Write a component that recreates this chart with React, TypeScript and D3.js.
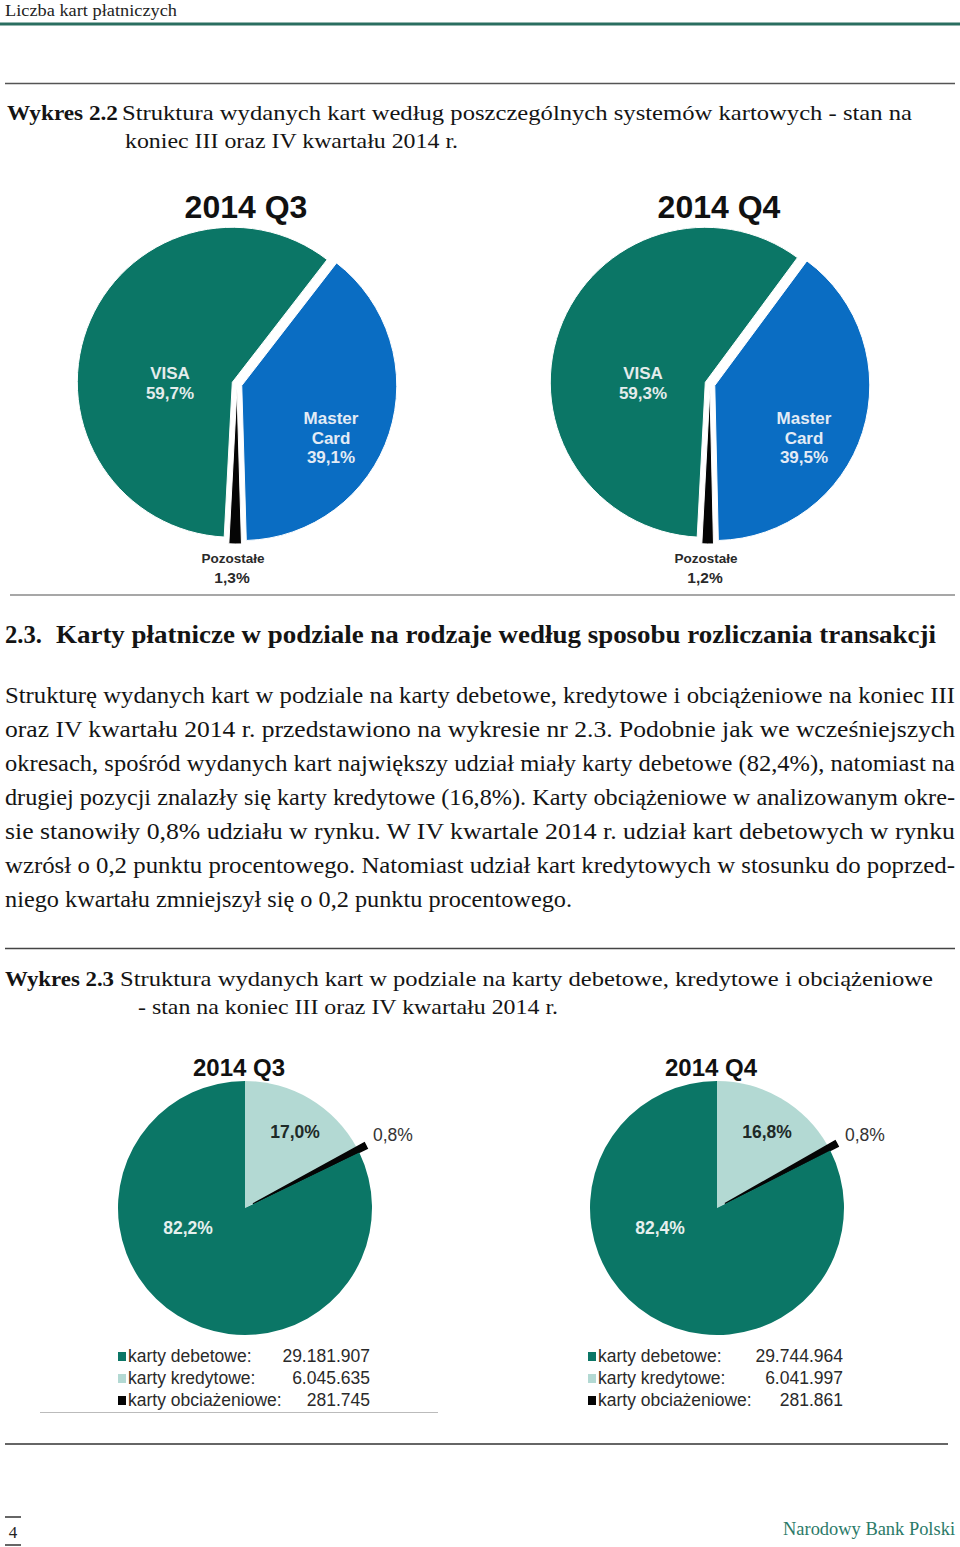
import React from "react";
import * as d3 from "d3";

// ---------- data ----------
const systemNames = ["VISA", "Master Card", "Pozostałe"];
const systemsQ3 = [59.7, 39.1, 1.3];
const systemsQ4 = [59.3, 39.5, 1.2];
const systemColors = ["#0b7666", "#0a6dc3", "#050505"];

const cardLegend = ["karty debetowe:", "karty kredytowe:", "karty obciażeniowe:"];
const cardsQ3 = [29181907, 6045635, 281745];
const cardsQ4 = [29744964, 6041997, 281861];
const cardPctQ3 = [82.2, 17.0, 0.8];
const cardPctQ4 = [82.4, 16.8, 0.8];
const cardColors = ["#0b7666", "#b3d9d3", "#050505"];

const quarterTitles = ["2014 Q3", "2014 Q4"];

const paragraphLines = [
  "Strukturę wydanych kart w podziale na karty debetowe, kredytowe i obciążeniowe na koniec III",
  "oraz IV kwartału 2014 r. przedstawiono na wykresie nr 2.3. Podobnie jak we wcześniejszych",
  "okresach, spośród wydanych kart największy udział miały karty debetowe (82,4%), natomiast na",
  "drugiej pozycji znalazły się karty kredytowe (16,8%). Karty obciążeniowe w analizowanym okre-",
  "sie stanowiły 0,8% udziału w rynku. W IV kwartale 2014 r. udział kart debetowych w rynku",
  "wzrósł o 0,2 punktu procentowego. Natomiast udział kart kredytowych w stosunku do poprzed-",
  "niego kwartału zmniejszył się o 0,2 punktu procentowego.",
];

// ---------- helpers ----------
const plLocale = d3.formatLocale({
  decimal: ",",
  thousands: ".",
  grouping: [3],
  currency: ["", " zł"],
});
const fmtInt = plLocale.format(",d");
const fmtPct = (v: number) => plLocale.format(".1f")(v) + "%";

const SERIF = "'Liberation Serif', 'DejaVu Serif', serif";
const SANS = "'Liberation Sans', Arial, sans-serif";
const deg = Math.PI / 180;

function SystemPie({ cx, cy, title, values }: { cx: number; cy: number; title: string; values: number[] }) {
  const r = 155;
  const explode = 5;
  const start = 183 * deg;
  const pie = d3
    .pie<number>()
    .sort(null)
    .startAngle(start)
    .endAngle(start + 2 * Math.PI);
  const arcs = pie(values);
  const arc = d3.arc<d3.PieArcDatum<number>>().innerRadius(0).outerRadius(r);
  return (
    <g>
      <text x={cx + 9} y={cy - 166} textAnchor="middle" fontFamily={SANS} fontWeight="bold" fontSize={32} fill="#111">
        {title}
      </text>
      {arcs.map((a, i) => {
        const mid = (a.startAngle + a.endAngle) / 2;
        const dx = Math.sin(mid) * explode;
        const dy = -Math.cos(mid) * explode;
        return (
          <path
            key={i}
            d={arc(a) || ""}
            transform={`translate(${cx + dx},${cy + dy})`}
            fill={systemColors[i]}
            stroke="#fff"
            strokeWidth={1}
          />
        );
      })}
      <g fontFamily={SANS} fontWeight="bold" textAnchor="middle">
        <text x={cx - 67} y={cy - 5} fontSize={17} fill="#e4ecec">
          {systemNames[0]}
        </text>
        <text x={cx - 67} y={cy + 15} fontSize={17} fill="#e4ecec">
          {fmtPct(values[0])}
        </text>
        <text x={cx + 94} y={cy + 40} fontSize={17} fill="#e3ebf5">
          Master
        </text>
        <text x={cx + 94} y={cy + 60} fontSize={17} fill="#e3ebf5">
          Card
        </text>
        <text x={cx + 94} y={cy + 79} fontSize={17} fill="#e3ebf5">
          {fmtPct(values[1])}
        </text>
        <text x={cx - 4} y={cy + 179} fontSize={13.5} fill="#2a2a2a">
          {systemNames[2]}
        </text>
        <text x={cx - 5} y={cy + 199} fontSize={15.5} fill="#2a2a2a">
          {fmtPct(values[2])}
        </text>
      </g>
    </g>
  );
}

function CardPie({
  cx,
  cy,
  title,
  counts,
  pcts,
  legendX,
  valueX,
}: {
  cx: number;
  cy: number;
  title: string;
  counts: number[];
  pcts: number[];
  legendX: number;
  valueX: number;
}) {
  const r = 127;
  // clockwise from 12 o'clock: kredytowe, obciążeniowe, debetowe
  const order = [1, 2, 0];
  const pie = d3.pie<number>().sort(null).startAngle(0).endAngle(2 * Math.PI);
  const arcs = pie(order.map((k) => counts[k]));
  const arc = d3.arc<d3.PieArcDatum<number>>().innerRadius(0).outerRadius(r);
  const explodes = [0, 9, 0];
  const rowY = [1362, 1384, 1406];
  return (
    <g>
      <text x={cx - 6} y={1076} textAnchor="middle" fontFamily={SANS} fontWeight="bold" fontSize={24} fill="#111">
        {title}
      </text>
      {arcs.map((a, j) => {
        const k = order[j];
        const mid = (a.startAngle + a.endAngle) / 2;
        const dx = Math.sin(mid) * explodes[j];
        const dy = -Math.cos(mid) * explodes[j];
        return (
          <path
            key={j}
            d={arc(a) || ""}
            transform={`translate(${cx + dx},${cy + dy})`}
            fill={cardColors[k]}
            stroke={k === 2 ? "#050505" : "none"}
            strokeWidth={k === 2 ? 1.5 : 0}
          />
        );
      })}
      <g fontFamily={SANS} fontSize={17.5}>
        <text x={cx + 50} y={cy - 70} textAnchor="middle" fontWeight="bold" fill="#1e2a28">
          {fmtPct(pcts[1])}
        </text>
        <text x={cx + 128} y={cy - 67} textAnchor="start" fill="#333">
          {fmtPct(pcts[2])}
        </text>
        <text x={cx - 57} y={cy + 26} textAnchor="middle" fontWeight="bold" fill="#e6f0ee">
          {fmtPct(pcts[0])}
        </text>
      </g>
      <g fontFamily={SANS} fontSize={17.5} fill="#2a2a2a">
        {cardLegend.map((lab, k) => (
          <g key={k}>
            <rect x={legendX} y={rowY[k] - 10} width={8} height={9} fill={cardColors[k]} />
            <text x={legendX + 10} y={rowY[k]}>
              {lab}
            </text>
            <text x={valueX} y={rowY[k]} textAnchor="end">
              {fmtInt(counts[k])}
            </text>
          </g>
        ))}
      </g>
    </g>
  );
}

function SText({
  x,
  y,
  w,
  size,
  bold,
  fill,
  anchor,
  children,
}: {
  x: number;
  y: number;
  w?: number;
  size: number;
  bold?: boolean;
  fill?: string;
  anchor?: string;
  children: React.ReactNode;
}) {
  return (
    <text
      x={x}
      y={y}
      fontFamily={SERIF}
      fontSize={size}
      fontWeight={bold ? "bold" : "normal"}
      fill={fill || "#141414"}
      textAnchor={anchor || "start"}
      textLength={w}
      lengthAdjust={w ? "spacingAndGlyphs" : undefined}
    >
      {children}
    </text>
  );
}

export default function App() {
  const paraWidths = [950, 950, 950, 950, 950, 950, 567];
  return (
    <svg
      width={960}
      height={1547}
      viewBox="0 0 960 1547"
      style={{ position: "absolute", left: 0, top: 0, background: "#fff" }}
    >
      <rect x={0} y={0} width={960} height={1547} fill="#fff" />
      <SText x={5} y={16} w={172} size={16.5} fill="#222">
        Liczba kart płatniczych
      </SText>
      <line x1={0} x2={960} y1={24} y2={24} stroke="#2a6e60" strokeWidth={3} />
      <line x1={5} x2={955} y1={83.5} y2={83.5} stroke="#555" strokeWidth={1.5} />

      <SText x={7} y={120} w={111} size={22} bold>
        Wykres 2.2
      </SText>
      <SText x={122} y={120} w={790} size={22}>
        Struktura wydanych kart według poszczególnych systemów kartowych - stan na
      </SText>
      <SText x={125} y={148} w={333} size={22}>
        koniec III oraz IV kwartału 2014 r.
      </SText>

      <SystemPie cx={237} cy={384} title={quarterTitles[0]} values={systemsQ3} />
      <SystemPie cx={710} cy={384} title={quarterTitles[1]} values={systemsQ4} />

      <line x1={10} x2={955} y1={595} y2={595} stroke="#8a8a8a" strokeWidth={1.5} />

      <SText x={5} y={643} w={37} size={25} bold>
        2.3.
      </SText>
      <SText x={56} y={643} w={880} size={25} bold>
        Karty płatnicze w podziale na rodzaje według sposobu rozliczania transakcji
      </SText>

      {paragraphLines.map((line, i) => (
        <SText key={i} x={5} y={703 + i * 34} w={paraWidths[i]} size={22.5}>
          {line}
        </SText>
      ))}

      <line x1={5} x2={955} y1={948.5} y2={948.5} stroke="#444" strokeWidth={1.5} />

      <SText x={5} y={986} w={109} size={22} bold>
        Wykres 2.3
      </SText>
      <SText x={120} y={986} w={813} size={22}>
        Struktura wydanych kart w podziale na karty debetowe, kredytowe i obciążeniowe
      </SText>
      <SText x={138} y={1014} w={420} size={22}>
        - stan na koniec III oraz IV kwartału 2014 r.
      </SText>

      <CardPie
        cx={245}
        cy={1208}
        title={quarterTitles[0]}
        counts={cardsQ3}
        pcts={cardPctQ3}
        legendX={118}
        valueX={370}
      />
      <CardPie
        cx={717}
        cy={1208}
        title={quarterTitles[1]}
        counts={cardsQ4}
        pcts={cardPctQ4}
        legendX={588}
        valueX={843}
      />
      <line x1={40} x2={438} y1={1412.5} y2={1412.5} stroke="#bbb" strokeWidth={1} />

      <line x1={5} x2={948} y1={1444} y2={1444} stroke="#333" strokeWidth={1.5} />

      <line x1={5} x2={21} y1={1517} y2={1517} stroke="#333" strokeWidth={1.5} />
      <SText x={13} y={1538} size={17} anchor="middle" fill="#222">
        4
      </SText>
      <line x1={5} x2={21} y1={1545} y2={1545} stroke="#333" strokeWidth={1.5} />
      <SText x={783} y={1535} w={172} size={19} fill="#2b7a68">
        Narodowy Bank Polski
      </SText>
    </svg>
  );
}
